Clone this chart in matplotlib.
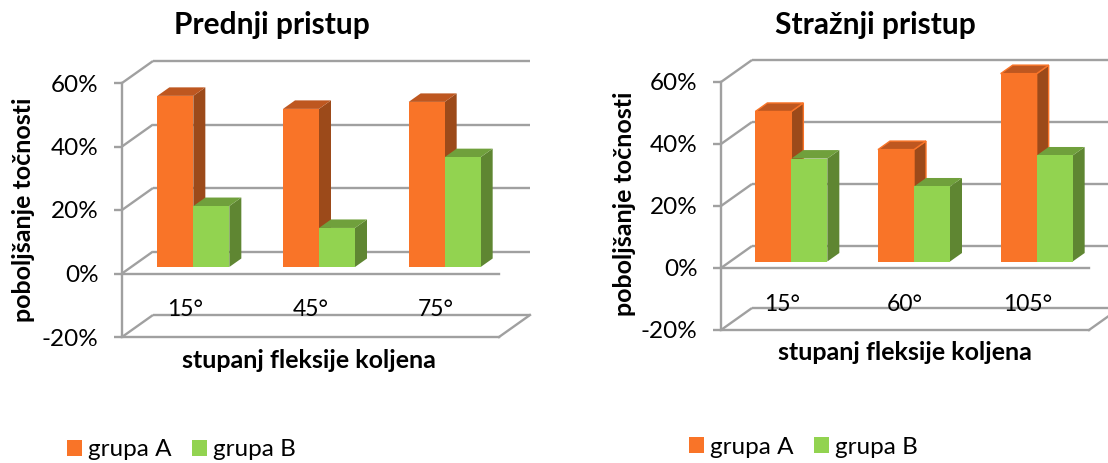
import matplotlib
matplotlib.use("Agg")
import matplotlib.pyplot as plt
from matplotlib.patches import Polygon, Patch

plt.rcParams['font.family'] = ['Lato', 'DejaVu Sans']

W, H = 1108, 463

# data
titles = ["Prednji pristup", "Stražnji pristup"]
categories_left = ["15°", "45°", "75°"]
categories_right = ["15°", "60°", "105°"]
group_a_left = [53.9, 49.8, 52.0]
group_b_left = [19.2, 12.3, 34.6]
group_a_right = [48.4, 36.1, 60.6]
group_b_right = [33.2, 24.2, 34.2]
y_ticks = [-20, 0, 20, 40, 60]
series_names = ["grupa A", "grupa B"]
x_label = "stupanj fleksije koljena"
y_label = "poboljšanje točnosti"

# styles
ORANGE = ("#F97428", "#BE5720", "#9C4A1A")
GREEN = ("#92D350", "#70A03C", "#5F8632")
GRID = "#A0A0A0"
TXT = "#000000"
LW = 1.7


def panel(fig, box, cats, a, b, title, title_xy, xlab_xy, ylab_xy, legend_xy,
          wall, bar_w, shift, edge):
    left, right, top, bottom = box      # pixel positions of the front frame
    ax = fig.add_axes([left / W, 1 - bottom / H, (right - left) / W, (bottom - top) / H])
    ax.set_xlim(-0.5, len(cats) - 0.5)
    ax.set_ylim(-20, 60)
    ax.patch.set_alpha(0)
    sx = (right - left) / len(cats)
    sy = (bottom - top) / 80
    wx, wy = wall[0] / sx, wall[1] / sy     # wall depth in data units
    bx, by = shift / sx, 6.5 / sy           # bar position on the floor
    dx, dy = 12 / sx, 8.5 / sy              # bar depth
    w = bar_w / sx

    # walls: gridlines and floor
    for t in y_ticks:
        ax.plot([-0.5, -0.5 + wx], [t, t + wy], color=GRID, lw=LW, clip_on=False,
                zorder=1, solid_capstyle='butt')
        ax.plot([-0.5 + wx, 2.5 + wx], [t + wy, t + wy], color=GRID, lw=LW,
                clip_on=False, zorder=1, solid_capstyle='butt')
    ax.plot([-0.5, 2.5], [-20, -20], color=GRID, lw=LW, clip_on=False, zorder=1)
    ax.plot([2.5, 2.5 + wx], [-20, -20 + wy], color=GRID, lw=LW, clip_on=False, zorder=1)

    # bars
    for i in range(len(cats)):
        for j, (vals, col) in enumerate(((a, ORANGE), (b, GREEN))):
            v = vals[i]
            x0 = i + bx + (j - 1) * w
            x1 = x0 + w
            y0 = by
            y1 = by + v
            ec = col[0] if (edge and j == 0) else 'none'
            ax.add_patch(Polygon([(x1, y0), (x1 + dx, y0 + dy), (x1 + dx, y1 + dy), (x1, y1)],
                                 fc=col[2], ec=ec, lw=1, zorder=3 + j, clip_on=False))
            ax.add_patch(Polygon([(x0, y1), (x1, y1), (x1 + dx, y1 + dy), (x0 + dx, y1 + dy)],
                                 fc=col[1], ec=ec, lw=1, zorder=3 + j, clip_on=False))
            ax.bar(x0, v, width=w, bottom=by, align='edge', color=col[0],
                   zorder=3.5 + j, clip_on=False, lw=0)

    # axes
    for s in ('top', 'right'):
        ax.spines[s].set_visible(False)
    for s in ('left', 'bottom'):
        ax.spines[s].set_color(GRID)
        ax.spines[s].set_linewidth(LW)
    ax.spines['bottom'].set_position(('data', 0))
    ax.spines['bottom'].set_zorder(2)
    ax.set_xticks(range(len(cats)), cats)
    ax.tick_params(axis='x', length=0, pad=18.5, labelsize=16.5, colors=TXT)
    ax.set_yticks(y_ticks, [f"{t}%" for t in y_ticks])
    ax.tick_params(axis='y', length=5.8, width=LW, color=GRID, pad=11, labelsize=17.5,
                   labelcolor=TXT)

    # texts
    to_ax = ax.transAxes.inverted()
    tx, ty = to_ax.transform((title_xy[0], H - title_xy[1]))
    ax.set_title(title, x=tx, y=ty, pad=0, fontsize=21.5, fontweight='bold', color=TXT,
                 va='center')
    ax.set_xlabel(x_label, fontsize=18, fontweight='bold', color=TXT, va='center')
    ax.xaxis.set_label_coords(*to_ax.transform((xlab_xy[0], H - xlab_xy[1])))
    ax.set_ylabel(y_label, fontsize=18, fontweight='bold', color=TXT, va='center')
    ax.yaxis.set_label_coords(*to_ax.transform((ylab_xy[0], H - ylab_xy[1])))

    handles = [Patch(fc=ORANGE[0]), Patch(fc=GREEN[0])]
    lx, ly = to_ax.transform((legend_xy[0], H - legend_xy[1]))
    ax.legend(handles, series_names, ncol=2, loc='center left', bbox_to_anchor=(lx, ly),
              frameon=False, fontsize=17.5, handlelength=0.62, handleheight=0.62,
              handletextpad=0.25, columnspacing=0.82, borderpad=0, borderaxespad=0,
              labelcolor=TXT)
    return ax


fig = plt.figure(figsize=(W / 100, H / 100), dpi=100, facecolor='white')

panel(fig, (122, 499, 83, 337), categories_left, group_a_left, group_b_left, titles[0],
      (272, 25), (309, 361), (23, 210), (67, 450), (31, 22), 36, 8.5, False)
panel(fig, (721, 1089, 82, 330), categories_right, group_a_right, group_b_right, titles[1],
      (875, 25), (905, 352), (624, 204), (689, 447), (31, 22), 36, 9, True)

fig.savefig("out.png", dpi=100)
